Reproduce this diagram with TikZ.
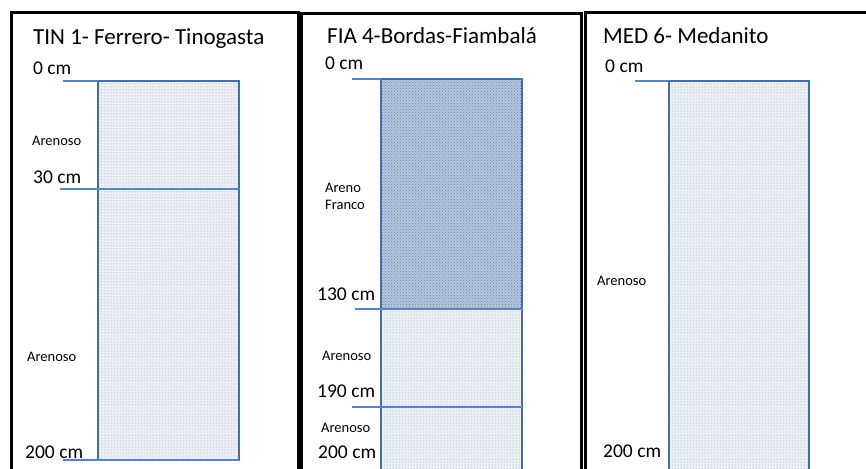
\documentclass[tikz,border=0pt]{standalone}
\usepackage{fontspec}
\setmainfont{Carlito}
\usetikzlibrary{patterns}
\definecolor{boxblue}{HTML}{416FA8}
\definecolor{tickblue}{HTML}{5586C4}
\definecolor{sandfill}{HTML}{EDF1F6}
\definecolor{sanddot}{HTML}{8A96A6}
\definecolor{loamfill}{HTML}{B4C6DC}
\definecolor{loamdot}{HTML}{6584AC}
\tikzset{
  frame/.style={draw=black,line width=3pt},
  sandlayer/.style={fill=sandfill,postaction={pattern=dots,pattern color=sanddot}},
  loamlayer/.style={fill=loamfill,postaction={pattern=crosshatch dots,pattern color=loamdot}},
  colborder/.style={draw=boxblue,line width=2.4pt},
  tick/.style={draw=tickblue,line width=1.6pt},
  ttl/.style={anchor=base west,inner sep=0pt,font=\fontsize{23}{27}\selectfont},
  depth/.style={anchor=base west,inner sep=0pt,font=\fontsize{19.5}{23}\selectfont},
  soil/.style={anchor=base west,inner sep=0pt,font=\fontsize{14.5}{17}\selectfont}
}
\begin{document}
\begin{tikzpicture}[x=1pt,y=-1pt]
\useasboundingbox (0,0) rectangle (866,468);
\clip (0,0) rectangle (866,468);
\fill[white] (0,0) rectangle (866,468);
% ---------- Panel 1 ----------
\coordinate (p1tl) at (98,81);
\coordinate (p1br) at (239,460);
\path[sandlayer] (p1tl) rectangle (p1br);
\draw[colborder] (p1tl) rectangle (p1br);
\coordinate (t1a) at (63,81);
\coordinate (t1b) at (60,189);
\coordinate (t1c) at (239,189);
\coordinate (t1d) at (63,460);
\draw[tick] (t1a) -- (p1tl);
\draw[tick] (t1b) -- (t1c);
\draw[tick] (t1d) -- (p1br);
\node[ttl] (title1) at (33,45) {TIN 1- Ferrero- Tinogasta};
\node[depth] (d1a) at (33,75) {0 cm};
\node[soil] (s1a) at (32,145) {Arenoso};
\node[depth] (d1b) at (33,183) {30 cm};
\node[soil] (s1b) at (27,361) {Arenoso};
\node[depth] (d1c) at (25,458) {200 cm};
% ---------- Panel 2 ----------
\coordinate (p2tl) at (381,79);
\coordinate (p2mr) at (522,309);
\coordinate (p2ml) at (381,309);
\coordinate (p2br) at (522,490);
\path[loamlayer] (p2tl) rectangle (p2mr);
\path[sandlayer] (p2ml) rectangle (p2br);
\draw[colborder] (p2tl) rectangle (p2br);
\coordinate (t2a) at (352,79);
\coordinate (t2b) at (355,309);
\coordinate (t2c) at (523,309);
\coordinate (t2d) at (352,407);
\coordinate (t2e) at (522,407);
\draw[tick] (t2a) -- (p2tl);
\draw[tick] (t2b) -- (t2c);
\draw[tick] (t2d) -- (t2e);
\node[ttl] (title2) at (327,44) {FIA 4-Bordas-Fiambalá};
\node[depth] (d2a) at (325,70) {0 cm};
\node[soil] (s2a) at (325,192) {Areno};
\node[soil] (s2b) at (325,209) {Franco};
\node[depth] (d2b) at (317,300) {130 cm};
\node[soil] (s2c) at (322,360) {Arenoso};
\node[depth] (d2c) at (317,397) {190 cm};
\node[soil] (s2d) at (321,432) {Arenoso};
\node[depth] (d2d) at (318,458) {200 cm};
% ---------- Panel 3 ----------
\coordinate (p3tl) at (669,81);
\coordinate (p3br) at (809,490);
\path[sandlayer] (p3tl) rectangle (p3br);
\draw[colborder] (p3tl) rectangle (p3br);
\coordinate (t3a) at (635,81);
\draw[tick] (t3a) -- (p3tl);
\node[ttl] (title3) at (603,44) {MED 6- Medanito};
\node[depth] (d3a) at (605,73) {0 cm};
\node[soil] (s3a) at (597,285) {Arenoso};
\node[depth] (d3b) at (603,457) {200 cm};
% ---------- Frames ----------
\draw[frame] (11,490) -- (11,13) -- (298,13) -- (298,490);
\draw[frame] (301,490) -- (301,14) -- (581,14) -- (581,490);
\draw[frame] (585,490) -- (585,13) -- (880,13);
\end{tikzpicture}
\end{document}
